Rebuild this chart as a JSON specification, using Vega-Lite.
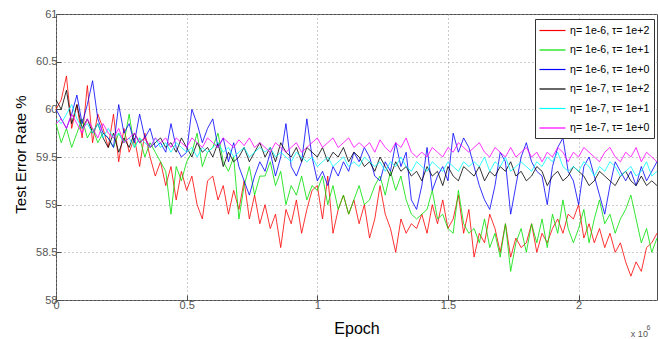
{
"$schema": "https://vega.github.io/schema/vega-lite/v6.json",
"width": 601, "height": 286,
"autosize": {"type": "none"},
"padding": {"left": 56, "top": 14, "right": 1, "bottom": 39},
"background": "white",
"config": {
 "font": "Liberation Sans",
 "view": {"stroke": "#4d4d4d", "strokeWidth": 1},
 "axis": {"domain": false, "grid": true, "gridColor": "#999999", "gridDash": [1, 3], "gridWidth": 1, "ticks": true, "tickSize": -5, "tickColor": "#4d4d4d", "labelColor": "#555555", "labelFontSize": 11, "labelFont": "Liberation Sans", "titleFont": "Liberation Sans", "titleColor": "#000000", "titleFontWeight": "normal", "titleFontSize": 16, "labelFlush": false, "labelOverlap": false},
 "axisX": {"labelPadding": 4, "titleY": 33, "titleBaseline": "alphabetic"},
 "axisY": {"labelPadding": 4, "titleX": -31, "titleY": 140, "titleAngle": -90, "titleBaseline": "alphabetic", "titleAlign": "center", "titleFontSize": 15}
},
"data": {"values": [
{"x":0,"r":60.0,"g":59.85,"b":60.0,"k":60.1,"c":59.9,"m":59.85},
{"x":0.02,"r":60.1,"g":59.65,"b":59.9,"k":60.0,"c":59.85,"m":59.9},
{"x":0.04,"r":60.35,"g":59.8,"b":59.8,"k":60.2,"c":59.95,"m":59.8},
{"x":0.06,"r":59.8,"g":59.6,"b":59.95,"k":59.85,"c":60.05,"m":59.95},
{"x":0.08,"r":60.05,"g":59.75,"b":60.15,"k":60.05,"c":59.9,"m":59.85},
{"x":0.1,"r":59.7,"g":59.9,"b":59.85,"k":59.8,"c":59.8,"m":59.75},
{"x":0.12,"r":60.25,"g":59.7,"b":60.05,"k":59.9,"c":59.85,"m":59.9},
{"x":0.14,"r":59.65,"g":59.8,"b":60.3,"k":59.75,"c":59.75,"m":59.8},
{"x":0.16,"r":59.95,"g":59.65,"b":59.9,"k":59.85,"c":59.85,"m":59.7},
{"x":0.18,"r":59.8,"g":59.75,"b":59.75,"k":59.7,"c":59.7,"m":59.85},
{"x":0.2,"r":59.6,"g":59.7,"b":59.7,"k":59.6,"c":59.8,"m":59.75},
{"x":0.22,"r":59.95,"g":59.6,"b":59.6,"k":59.75,"c":59.7,"m":59.7},
{"x":0.24,"r":59.45,"g":59.75,"b":60.05,"k":59.55,"c":59.75,"m":59.8},
{"x":0.26,"r":59.8,"g":59.65,"b":59.75,"k":59.7,"c":59.65,"m":59.65},
{"x":0.28,"r":59.55,"g":59.95,"b":59.85,"k":59.6,"c":59.7,"m":59.7},
{"x":0.3,"r":59.7,"g":59.6,"b":59.65,"k":59.75,"c":59.6,"m":59.75},
{"x":0.32,"r":59.4,"g":59.7,"b":59.95,"k":59.65,"c":59.7,"m":59.65},
{"x":0.34,"r":59.75,"g":59.5,"b":59.7,"k":59.7,"c":59.65,"m":59.7},
{"x":0.36,"r":59.5,"g":59.65,"b":59.8,"k":59.6,"c":59.6,"m":59.6},
{"x":0.38,"r":59.3,"g":59.55,"b":59.6,"k":59.65,"c":59.7,"m":59.7},
{"x":0.4,"r":59.45,"g":59.45,"b":59.65,"k":59.7,"c":59.6,"m":59.65},
{"x":0.42,"r":59.2,"g":59.35,"b":59.55,"k":59.6,"c":59.65,"m":59.7},
{"x":0.44,"r":59.4,"g":58.9,"b":59.85,"k":59.65,"c":59.55,"m":59.6},
{"x":0.46,"r":59.05,"g":59.4,"b":59.6,"k":59.55,"c":59.65,"m":59.7},
{"x":0.48,"r":59.35,"g":59.25,"b":59.5,"k":59.7,"c":59.6,"m":59.65},
{"x":0.5,"r":59.15,"g":59.45,"b":59.55,"k":59.6,"c":59.55,"m":59.6},
{"x":0.52,"r":59.3,"g":59.55,"b":60.0,"k":59.5,"c":59.6,"m":59.7},
{"x":0.54,"r":59.0,"g":59.75,"b":59.85,"k":59.65,"c":59.5,"m":59.65},
{"x":0.56,"r":58.85,"g":59.4,"b":59.65,"k":59.55,"c":59.6,"m":59.6},
{"x":0.58,"r":59.25,"g":59.55,"b":59.8,"k":59.6,"c":59.55,"m":59.7},
{"x":0.6,"r":59.3,"g":59.6,"b":59.9,"k":59.5,"c":59.6,"m":59.65},
{"x":0.62,"r":59.05,"g":59.75,"b":59.6,"k":59.65,"c":59.65,"m":59.6},
{"x":0.64,"r":59.2,"g":59.45,"b":59.7,"k":59.4,"c":59.55,"m":59.7},
{"x":0.66,"r":58.9,"g":59.35,"b":59.45,"k":59.55,"c":59.6,"m":59.65},
{"x":0.68,"r":59.15,"g":59.5,"b":59.65,"k":59.45,"c":59.5,"m":59.6},
{"x":0.7,"r":58.95,"g":58.85,"b":59.4,"k":59.5,"c":59.55,"m":59.68},
{"x":0.72,"r":59.25,"g":59.2,"b":59.25,"k":59.6,"c":59.6,"m":59.62},
{"x":0.74,"r":58.85,"g":59.4,"b":59.1,"k":59.45,"c":59.5,"m":59.7},
{"x":0.76,"r":59.1,"g":59.1,"b":59.3,"k":59.55,"c":59.55,"m":59.6},
{"x":0.78,"r":58.8,"g":59.3,"b":59.45,"k":59.65,"c":59.6,"m":59.65},
{"x":0.8,"r":59.0,"g":59.3,"b":59.35,"k":59.5,"c":59.55,"m":59.6},
{"x":0.82,"r":58.75,"g":59.45,"b":59.55,"k":59.6,"c":59.6,"m":59.55},
{"x":0.84,"r":58.9,"g":59.2,"b":59.3,"k":59.45,"c":59.5,"m":59.65},
{"x":0.86,"r":58.55,"g":59.35,"b":59.5,"k":59.65,"c":59.55,"m":59.6},
{"x":0.88,"r":58.95,"g":59.0,"b":59.85,"k":59.55,"c":59.5,"m":59.55},
{"x":0.9,"r":58.8,"g":59.2,"b":59.4,"k":59.5,"c":59.45,"m":59.6},
{"x":0.92,"r":59.05,"g":59.1,"b":59.3,"k":59.6,"c":59.55,"m":59.65},
{"x":0.94,"r":58.7,"g":59.3,"b":59.45,"k":59.45,"c":59.5,"m":59.55},
{"x":0.96,"r":58.95,"g":59.05,"b":59.9,"k":59.6,"c":59.45,"m":59.6},
{"x":0.98,"r":59.15,"g":59.2,"b":59.5,"k":59.55,"c":59.5,"m":59.65},
{"x":1.0,"r":59.2,"g":59.15,"b":59.25,"k":59.5,"c":59.4,"m":59.7},
{"x":1.02,"r":58.85,"g":59.3,"b":59.35,"k":59.6,"c":59.45,"m":59.6},
{"x":1.04,"r":59.3,"g":59.0,"b":59.2,"k":59.45,"c":59.5,"m":59.65},
{"x":1.06,"r":58.7,"g":59.2,"b":59.4,"k":59.55,"c":59.4,"m":59.7},
{"x":1.08,"r":58.95,"g":58.95,"b":59.3,"k":59.5,"c":59.45,"m":59.6},
{"x":1.1,"r":59.1,"g":59.1,"b":59.45,"k":59.6,"c":59.5,"m":59.65},
{"x":1.12,"r":58.9,"g":58.9,"b":59.35,"k":59.45,"c":59.4,"m":59.7},
{"x":1.14,"r":59.05,"g":59.05,"b":59.55,"k":59.55,"c":59.45,"m":59.6},
{"x":1.16,"r":58.8,"g":59.2,"b":59.45,"k":59.5,"c":59.4,"m":59.65},
{"x":1.18,"r":59.0,"g":59.0,"b":59.6,"k":59.4,"c":59.5,"m":59.6},
{"x":1.2,"r":58.65,"g":59.05,"b":59.5,"k":59.45,"c":59.45,"m":59.65},
{"x":1.22,"r":58.85,"g":59.2,"b":59.3,"k":59.35,"c":59.4,"m":59.55},
{"x":1.24,"r":59.2,"g":59.3,"b":59.25,"k":59.5,"c":59.45,"m":59.68},
{"x":1.26,"r":58.9,"g":59.1,"b":59.45,"k":59.4,"c":59.35,"m":59.6},
{"x":1.28,"r":58.75,"g":59.35,"b":59.35,"k":59.3,"c":59.45,"m":59.55},
{"x":1.3,"r":58.5,"g":59.15,"b":59.65,"k":59.45,"c":59.4,"m":59.65},
{"x":1.32,"r":58.85,"g":59.3,"b":59.4,"k":59.35,"c":59.5,"m":59.6},
{"x":1.34,"r":58.7,"g":59.05,"b":59.55,"k":59.4,"c":59.4,"m":59.7},
{"x":1.36,"r":58.8,"g":58.9,"b":59.05,"k":59.3,"c":59.35,"m":59.55},
{"x":1.38,"r":58.75,"g":58.85,"b":58.95,"k":59.35,"c":59.45,"m":59.5},
{"x":1.4,"r":58.9,"g":58.9,"b":59.2,"k":59.25,"c":59.4,"m":59.55},
{"x":1.42,"r":58.7,"g":58.95,"b":59.6,"k":59.4,"c":59.35,"m":59.5},
{"x":1.44,"r":59.0,"g":59.15,"b":59.15,"k":59.3,"c":59.45,"m":59.6},
{"x":1.46,"r":58.8,"g":58.85,"b":59.3,"k":59.35,"c":59.4,"m":59.55},
{"x":1.48,"r":59.05,"g":58.9,"b":59.4,"k":59.2,"c":59.35,"m":59.5},
{"x":1.5,"r":58.75,"g":58.75,"b":59.25,"k":59.4,"c":59.45,"m":59.6},
{"x":1.52,"r":58.85,"g":58.7,"b":59.75,"k":59.3,"c":59.4,"m":59.55},
{"x":1.54,"r":59.1,"g":59.15,"b":59.55,"k":59.25,"c":59.35,"m":59.65},
{"x":1.56,"r":58.7,"g":58.8,"b":59.7,"k":59.4,"c":59.45,"m":59.6},
{"x":1.58,"r":58.95,"g":58.7,"b":59.6,"k":59.35,"c":59.4,"m":59.55},
{"x":1.6,"r":58.45,"g":58.75,"b":59.4,"k":59.3,"c":59.45,"m":59.6},
{"x":1.62,"r":58.7,"g":58.6,"b":59.2,"k":59.4,"c":59.4,"m":59.65},
{"x":1.64,"r":58.6,"g":58.85,"b":59.05,"k":59.25,"c":59.5,"m":59.55},
{"x":1.66,"r":58.9,"g":58.55,"b":58.95,"k":59.35,"c":59.35,"m":59.5},
{"x":1.68,"r":58.75,"g":58.7,"b":59.2,"k":59.3,"c":59.45,"m":59.6},
{"x":1.7,"r":58.5,"g":58.45,"b":59.55,"k":59.4,"c":59.4,"m":59.55},
{"x":1.72,"r":58.8,"g":58.8,"b":59.45,"k":59.35,"c":59.5,"m":59.5},
{"x":1.74,"r":58.45,"g":58.3,"b":58.9,"k":59.45,"c":59.35,"m":59.6},
{"x":1.76,"r":58.65,"g":58.6,"b":59.2,"k":59.3,"c":59.4,"m":59.5},
{"x":1.78,"r":58.55,"g":58.75,"b":59.5,"k":59.35,"c":59.45,"m":59.55},
{"x":1.8,"r":58.6,"g":58.5,"b":59.65,"k":59.25,"c":59.4,"m":59.6},
{"x":1.82,"r":58.8,"g":58.8,"b":59.45,"k":59.3,"c":59.35,"m":59.5},
{"x":1.84,"r":58.5,"g":58.6,"b":59.35,"k":59.4,"c":59.45,"m":59.55},
{"x":1.86,"r":58.7,"g":58.85,"b":59.3,"k":59.35,"c":59.4,"m":59.45},
{"x":1.88,"r":58.6,"g":58.55,"b":59.0,"k":59.2,"c":59.5,"m":59.55},
{"x":1.9,"r":58.75,"g":58.9,"b":59.4,"k":59.3,"c":59.45,"m":59.5},
{"x":1.92,"r":58.85,"g":58.7,"b":59.6,"k":59.35,"c":59.55,"m":59.6},
{"x":1.94,"r":58.7,"g":59.05,"b":59.7,"k":59.25,"c":59.4,"m":59.55},
{"x":1.96,"r":58.9,"g":58.75,"b":59.35,"k":59.3,"c":59.35,"m":59.45},
{"x":1.98,"r":58.85,"g":58.6,"b":59.25,"k":59.4,"c":59.4,"m":59.55},
{"x":2.0,"r":59.0,"g":58.75,"b":59.0,"k":59.35,"c":59.35,"m":59.5},
{"x":2.02,"r":58.65,"g":58.95,"b":59.4,"k":59.3,"c":59.45,"m":59.6},
{"x":2.04,"r":58.8,"g":58.6,"b":59.5,"k":59.2,"c":59.4,"m":59.55},
{"x":2.06,"r":58.6,"g":58.85,"b":59.3,"k":59.25,"c":59.3,"m":59.5},
{"x":2.08,"r":58.75,"g":59.05,"b":59.1,"k":59.35,"c":59.4,"m":59.45},
{"x":2.1,"r":58.55,"g":58.8,"b":58.9,"k":59.3,"c":59.35,"m":59.55},
{"x":2.12,"r":58.7,"g":58.9,"b":59.2,"k":59.25,"c":59.45,"m":59.6},
{"x":2.14,"r":58.5,"g":58.7,"b":59.45,"k":59.2,"c":59.4,"m":59.5},
{"x":2.16,"r":58.6,"g":58.85,"b":59.35,"k":59.3,"c":59.3,"m":59.45},
{"x":2.18,"r":58.4,"g":58.95,"b":59.25,"k":59.35,"c":59.35,"m":59.55},
{"x":2.2,"r":58.25,"g":59.1,"b":59.35,"k":59.25,"c":59.4,"m":59.5},
{"x":2.22,"r":58.4,"g":58.85,"b":59.2,"k":59.2,"c":59.3,"m":59.6},
{"x":2.24,"r":58.3,"g":58.6,"b":59.4,"k":59.3,"c":59.35,"m":59.45},
{"x":2.26,"r":58.55,"g":58.75,"b":59.25,"k":59.2,"c":59.45,"m":59.55},
{"x":2.28,"r":58.6,"g":58.5,"b":59.35,"k":59.25,"c":59.3,"m":59.5},
{"x":2.3,"r":58.7,"g":58.65,"b":59.45,"k":59.2,"c":59.35,"m":59.45}
]},
"encoding": {
 "x": {"field": "x", "type": "quantitative", "title": "Epoch", "scale": {"domain": [0, 2.3], "nice": false, "zero": false}, "axis": {"values": [0, 0.5, 1, 1.5, 2], "format": "~g"}}
},
"layer": [
 {"mark": {"type": "line", "strokeWidth": 0.8}, "encoding": {
   "y": {"field": "r", "type": "quantitative", "title": "Test Error Rate %", "scale": {"domain": [58, 61], "nice": false, "zero": false}, "axis": {"values": [58, 58.5, 59, 59.5, 60, 60.5, 61], "format": "~g"}},
   "color": {"datum": "η= 1e-6, τ= 1e+2", "type": "nominal",
     "scale": {"domain": ["η= 1e-6, τ= 1e+2", "η= 1e-6, τ= 1e+1", "η= 1e-6, τ= 1e+0", "η= 1e-7, τ= 1e+2", "η= 1e-7, τ= 1e+1", "η= 1e-7, τ= 1e+0"], "range": ["#ff0000", "#00e000", "#0000ff", "#000000", "#00ffff", "#ff00ff"]},
     "legend": {"orient": "none", "legendX": 479, "legendY": 5, "title": null, "symbolType": "M-2,0H2", "symbolSize": 169, "symbolStrokeWidth": 1.2, "symbolOffset": 6, "labelOffset": 10, "labelFontSize": 10.6, "labelColor": "#000000", "labelFont": "Liberation Sans", "labelLimit": 200, "padding": 4, "rowPadding": 5.5, "strokeColor": "#333333", "fillColor": "#ffffff", "cornerRadius": 0}}
 }},
 {"mark": {"type": "line", "strokeWidth": 0.8}, "encoding": {"y": {"field": "g", "type": "quantitative", "title": "Test Error Rate %"}, "color": {"datum": "η= 1e-6, τ= 1e+1", "type": "nominal"}}},
 {"mark": {"type": "line", "strokeWidth": 0.8}, "encoding": {"y": {"field": "b", "type": "quantitative", "title": "Test Error Rate %"}, "color": {"datum": "η= 1e-6, τ= 1e+0", "type": "nominal"}}},
 {"mark": {"type": "line", "strokeWidth": 0.8}, "encoding": {"y": {"field": "k", "type": "quantitative", "title": "Test Error Rate %"}, "color": {"datum": "η= 1e-7, τ= 1e+2", "type": "nominal"}}},
 {"mark": {"type": "line", "strokeWidth": 0.8}, "encoding": {"y": {"field": "c", "type": "quantitative", "title": "Test Error Rate %"}, "color": {"datum": "η= 1e-7, τ= 1e+1", "type": "nominal"}}},
 {"mark": {"type": "line", "strokeWidth": 0.8}, "encoding": {"y": {"field": "m", "type": "quantitative", "title": "Test Error Rate %"}, "color": {"datum": "η= 1e-7, τ= 1e+0", "type": "nominal"}}},
 {"data": {"values": [{"t": "x 10", "tx": 2.2, "ty": 57.612}]}, "mark": {"type": "text", "align": "left", "baseline": "alphabetic", "fontSize": 9, "fill": "#555555", "font": "Liberation Sans"}, "encoding": {"x": {"field": "tx", "type": "quantitative"}, "y": {"field": "ty", "type": "quantitative"}, "text": {"field": "t", "type": "nominal"}}},
 {"data": {"values": [{"t": "6", "tx": 2.26, "ty": 57.685}]}, "mark": {"type": "text", "align": "left", "baseline": "alphabetic", "fontSize": 7, "fill": "#555555", "font": "Liberation Sans"}, "encoding": {"x": {"field": "tx", "type": "quantitative"}, "y": {"field": "ty", "type": "quantitative"}, "text": {"field": "t", "type": "nominal"}}}
]
}
